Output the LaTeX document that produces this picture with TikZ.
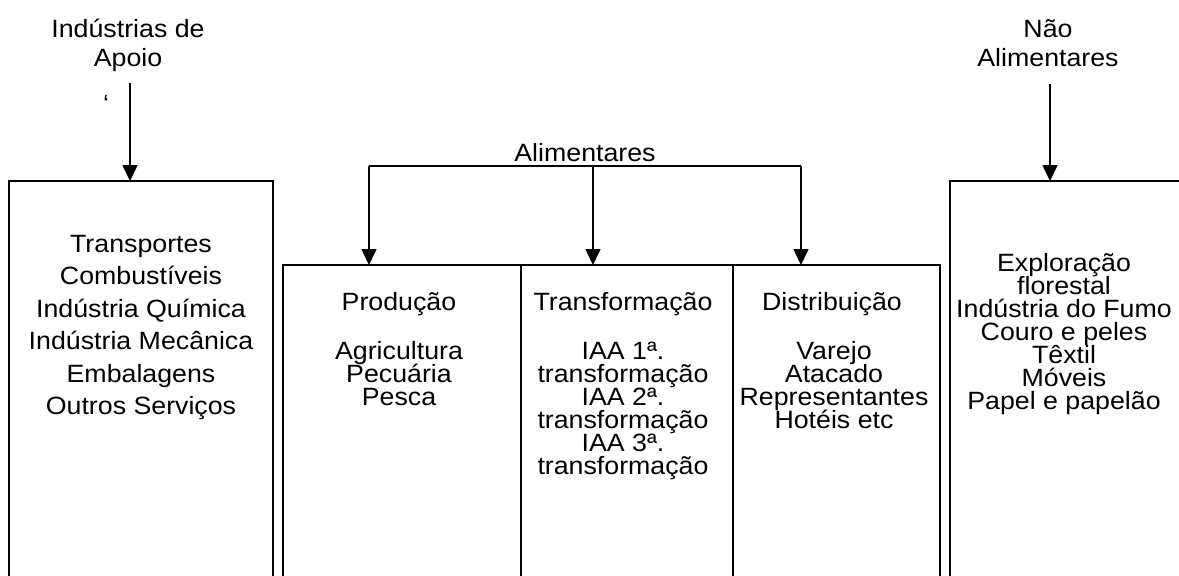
\documentclass[tikz,border=0pt]{standalone}
\usepackage{fontspec}
\setmainfont[FakeStretch=1.07]{Liberation Sans}
\usetikzlibrary{arrows.meta}
% exact line spacing inside multi-line nodes
\newcommand\fixedlines{\lineskiplimit=-100pt\relax}

\begin{document}
\begin{tikzpicture}[x=1pt, y=-1pt,
  frame/.style={line width=2.2pt},
  feed/.style={line width=1.6pt, -{Triangle[width=15pt,length=16pt]}},
  bar/.style={line width=1.6pt},
  % multi-line nodes: the base anchor sits on the last line
  txt/.style={font=\fontsize{25}{23}\selectfont\fixedlines,
    align=center, inner sep=0pt, anchor=base},
  toplabel/.style={txt, font=\fontsize{25}{29}\selectfont\fixedlines},
  biglist/.style={txt, font=\fontsize{25}{32.5}\selectfont\fixedlines}]
\useasboundingbox (0,0) rectangle (1179,576);

% open-bottomed frames
\draw[frame] (9,578) -- (9,181) -- (273,181) -- (273,578);
\draw[frame] (283,578) -- (283,265) -- (940,265) -- (940,578);
\draw[frame] (521,265) -- (521,578);
\draw[frame] (733,265) -- (733,578);
\draw[frame] (950,578) -- (950,181) -- (1181,181);

% arrow anchors on the frames
\coordinate (apoioTop) at (130,181);
\coordinate (naoTop) at (1050,181);
\coordinate (prodTop) at (369,265);
\coordinate (transTop) at (593,265);
\coordinate (distTop) at (801,265);
\coordinate (apoioStart) at (130,83);
\coordinate (naoStart) at (1050,84);
\coordinate (barL) at (369,166);
\coordinate (barM) at (593,166);
\coordinate (barR) at (801,166);

% top labels
\node[toplabel] (apoio) at (128,66) {Indústrias de\\Apoio};
\node[txt] (tick) at (106,112) {‘};
\node[toplabel] (nao) at (1048,66) {Não\\Alimentares};
\node[txt] (alim) at (585,161) {Alimentares};

% connectors
\draw[feed] (apoioStart) -- (apoioTop);
\draw[feed] (naoStart) -- (naoTop);
\draw[bar] (barL) -- (barR);
\draw[feed] (barL) -- (prodTop);
\draw[feed] (barM) -- (transTop);
\draw[feed] (barR) -- (distTop);

% supporting industries
\node[biglist] (apoioList) at (141,414.5) {Transportes\\Combustíveis\\Indústria Química\\Indústria Mecânica\\Embalagens\\Outros Serviços};

% food chain columns
\node[txt] (prodHead) at (399,310) {Produção};
\node[txt] (prodList) at (399,405) {Agricultura\\Pecuária\\Pesca};
\node[txt] (transHead) at (623,310) {Transformação};
\node[txt] (transList) at (623,474) {IAA 1ª.\\transformação\\IAA 2ª.\\transformação\\IAA 3ª.\\transformação};
\node[txt] (distHead) at (832,310) {Distribuição};
\node[txt] (distList) at (834,428) {Varejo\\Atacado\\Representantes\\Hotéis etc};

% non-food industries
\node[txt] (naoList) at (1064,409) {Exploração\\florestal\\Indústria do Fumo\\Couro e peles\\Têxtil\\Móveis\\Papel e papelão};
\end{tikzpicture}
\end{document}
